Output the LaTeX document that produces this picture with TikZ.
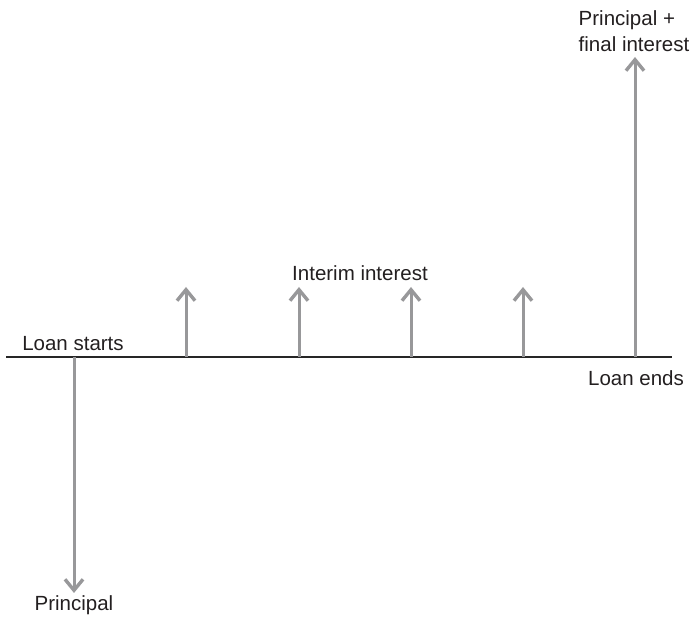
\documentclass[tikz,border=0pt]{standalone}
\usepackage{fontspec}
\setmainfont{Liberation Sans}
\usetikzlibrary{arrows.meta}
\definecolor{arrowgray}{RGB}{152,152,154}
\definecolor{txt}{RGB}{35,31,32}
\begin{document}
\begin{tikzpicture}[x=1pt,y=-1pt,
  lbl/.style={text=txt,font=\fontsize{20.5}{26}\selectfont,inner sep=0pt},
  flow/.style={draw=arrowgray,line width=3pt,-{Straight Barb[length=11pt,width=18pt,line width=3.4pt]}}]
\useasboundingbox (0,0) rectangle (697,617);
% timeline
\coordinate (L) at (6,357);
\coordinate (R) at (672,357);
\draw[line width=1.8pt,draw=black!85] (L) -- (R);
% base points
\coordinate (b0) at (74,357);
\coordinate (b1) at (186,357);
\coordinate (b2) at (299,357);
\coordinate (b3) at (411,357);
\coordinate (b4) at (523,357);
\coordinate (b5) at (635,357);
\coordinate (t0) at (74,593);
\coordinate (t1) at (186,287);
\coordinate (t2) at (299,287);
\coordinate (t3) at (411,287);
\coordinate (t4) at (523,287);
\coordinate (t5) at (635,57);
\draw[flow] (b0) -- (t0);
\draw[flow] (b1) -- (t1);
\draw[flow] (b2) -- (t2);
\draw[flow] (b3) -- (t3);
\draw[flow] (b4) -- (t4);
\draw[flow] (b5) -- (t5);
% labels
\node[lbl] (ls) at (73,344) {Loan starts};
\node[lbl] (le) at (636,378) {Loan ends};
\node[lbl] (ii) at (360,273) {Interim interest};
\node[lbl] (pr) at (74,605) {Principal};
\node[lbl,align=left] (pf) at (634,31) {Principal +\\final interest};
\end{tikzpicture}
\end{document}
